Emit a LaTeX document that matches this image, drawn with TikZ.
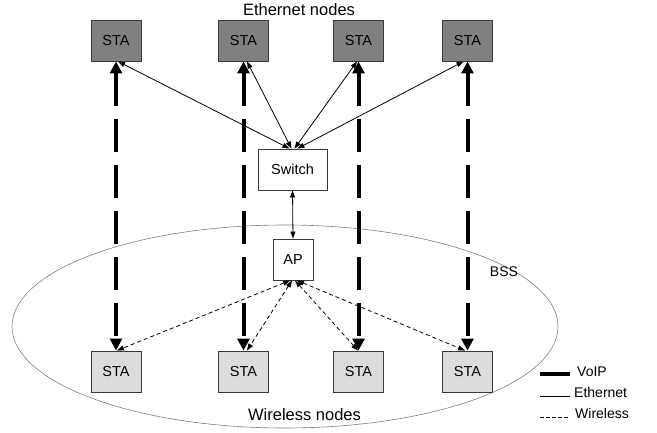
\documentclass[tikz,border=0pt]{standalone}
\usepackage{fontspec}
\setmainfont{Liberation Sans}
\usetikzlibrary{arrows.meta}
\definecolor{topfill}{HTML}{808080}
\definecolor{botfill}{HTML}{DCDCDC}
\definecolor{edge}{HTML}{3A3A3A}
\tikzset{
  box/.style={draw=edge, line width=0.9pt, minimum height=41pt, inner sep=0pt, font=\fontsize{14.5}{17}\selectfont},
  stabox/.style={box, minimum width=50pt},
  ethsta/.style={stabox, fill=topfill},
  wlsta/.style={stabox, fill=botfill},
  plainbox/.style={box, fill=white},
  voip/.style={line width=4pt, dash pattern=on 33pt off 13pt, {Triangle[length=12pt,width=12pt]}-{Triangle[length=12pt,width=12pt]}},
  eth/.style={line width=0.8pt, {Triangle[length=7pt,width=5pt]}-{Triangle[length=7pt,width=5pt]}},
  wl/.style={line width=0.8pt, dash pattern=on 4pt off 3pt, {Triangle[length=7pt,width=5pt]}-{Triangle[length=7pt,width=5pt]}},
  title/.style={font=\fontsize{16.5}{19}\selectfont, anchor=base, inner sep=0pt},
  legtext/.style={font=\fontsize{14}{17}\selectfont, anchor=base west, inner sep=0pt},
}
\begin{document}
\begin{tikzpicture}[x=1pt,y=-1pt]
\useasboundingbox (0,0) rectangle (657,432);
% BSS ellipse
\draw[gray, line width=0.6pt] (285,326.5) ellipse [x radius=273, y radius=101.5];
% nodes
\node[ethsta] (t1) at (116,40.5) {STA};
\node[ethsta] (t2) at (243.5,40.5) {STA};
\node[ethsta] (t3) at (358.5,40.5) {STA};
\node[ethsta] (t4) at (467.5,40.5) {STA};
\node[wlsta] (b1) at (116,371.5) {STA};
\node[wlsta] (b2) at (243.5,371.5) {STA};
\node[wlsta] (b3) at (358.5,371.5) {STA};
\node[wlsta] (b4) at (467.5,371.5) {STA};
\node[plainbox, minimum width=69pt] (sw) at (292.5,169.5) {Switch};
\node[plainbox, minimum width=40pt] (ap) at (293,259.5) {AP};
% VoIP
\draw[voip] (t1.south) -- (b1.north);
\draw[voip] (t2.south) -- (b2.north);
\draw[voip] (t3.south) -- (b3.north);
\draw[voip] (t4.south) -- (b4.north);
% Ethernet
\draw[eth] ([xshift=-3pt]sw.north) -- ([xshift=2pt]t1.south);
\draw[eth] ([xshift=-1pt]sw.north) -- ([xshift=3.5pt]t2.south);
\draw[eth] ([xshift=2pt]sw.north) -- ([xshift=-1.5pt]t3.south);
\draw[eth] ([xshift=5pt]sw.north) -- ([xshift=-4pt]t4.south);
\draw[eth] (sw.south) -- (ap.north);
% Wireless
\draw[wl] ([xshift=-3pt]ap.south) -- ([xshift=1pt]b1.north);
\draw[wl] ([xshift=-1pt]ap.south) -- ([xshift=3.5pt]b2.north);
\draw[wl] ([xshift=2pt]ap.south) -- ([xshift=-0.5pt]b3.north);
\draw[wl] ([xshift=4pt]ap.south) -- ([xshift=-2.5pt]b4.north);
% labels
\node[title] (ethlabel) at (299,15.5) {Ethernet nodes};
\node[title] (wllabel) at (304.5,420) {Wireless nodes};
\node[legtext, anchor=base] (bss) at (504,276) {BSS};
% legend
\coordinate (l1a) at (540,374); \coordinate (l1b) at (570,374);
\coordinate (l2a) at (540,396); \coordinate (l2b) at (570,396);
\coordinate (l3a) at (540,417); \coordinate (l3b) at (569,417);
\draw[line width=4pt] (l1a) -- (l1b);
\draw[line width=0.8pt] (l2a) -- (l2b);
\draw[line width=0.8pt, dash pattern=on 3.5pt off 2.5pt] (l3a) -- (l3b);
\node[legtext] (lv) at (577,376) {VoIP};
\node[legtext] (le) at (574,397) {Ethernet};
\node[legtext] (lw) at (575,418) {Wireless};
\end{tikzpicture}
\end{document}
